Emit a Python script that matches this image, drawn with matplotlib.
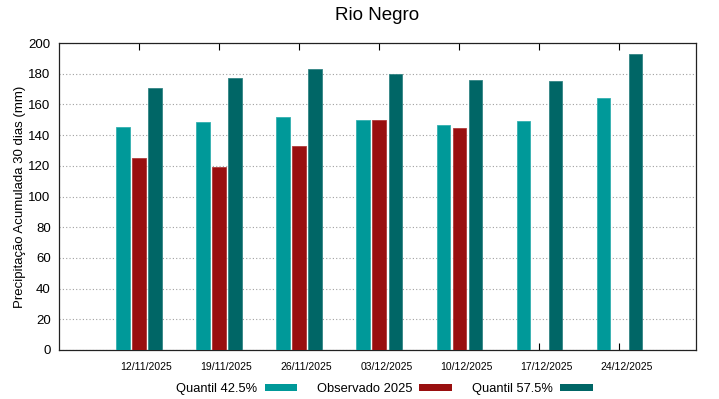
import numpy as np
import matplotlib
matplotlib.use("Agg")
import matplotlib.pyplot as plt
from matplotlib.patches import Patch

plt.rcParams['font.family'] = ['Liberation Sans', 'DejaVu Sans']

# data
datas = ['12/11/2025', '19/11/2025', '26/11/2025', '03/12/2025',
         '10/12/2025', '17/12/2025', '24/12/2025']
quantil_425 = [145.3, 148.3, 151.6, 149.6, 146.4, 149.2, 164.2]
observado = [125.0, 119.0, 132.9, 149.6, 144.8, np.nan, np.nan]
quantil_575 = [170.7, 177.0, 183.3, 179.8, 175.9, 175.0, 192.6]

c_q1 = '#009999'
c_obs = '#990f0f'
c_q2 = '#006666'

fig = plt.figure(figsize=(7.19, 3.99), dpi=100)
ax = fig.add_axes([59 / 719, 1 - 350 / 399, (696 - 59) / 719, (350 - 43) / 399])

x = np.arange(1, len(datas) + 1)
w = 0.165
step = 0.2
ax.bar(x - step, quantil_425, w, color=c_q1, edgecolor='#33b0b0', linewidth=0.6, zorder=3)
ax.bar(x, observado, w, color=c_obs, edgecolor='#b03a3a', linewidth=0.6, zorder=3)
ax.bar(x + step, quantil_575, w, color=c_q2, edgecolor='#338585', linewidth=0.6, zorder=3)

ax.set_xlim(0, 7.96)
ax.set_ylim(0, 200)
ax.set_yticks(np.arange(0, 201, 20))
# major ticks mark the groups, labels sit slightly to the right (minor ticks)
ax.set_xticks(x)
ax.set_xticklabels([])
ax.set_xticks(x + 0.09, minor=True)
ax.set_xticklabels(datas, minor=True, fontsize=7.5)
ax.tick_params(axis='x', which='major', direction='in', top=True, bottom=True, length=5, width=0.8)
ax.tick_params(axis='x', which='minor', length=0, pad=9)
ax.tick_params(axis='y', length=0, labelsize=9.5, pad=6)
ax.grid(axis='y', linestyle=(0, (1, 2)), color='#a0a0a0', linewidth=0.8, zorder=0)
for s in ax.spines.values():
    s.set_linewidth(0.9)
    s.set_color('#222222')

ax.set_ylabel('Precipitação Acumulada 30 dias (mm)', fontsize=9.5, labelpad=2)
fig.text(377.5 / 719, 1 - 16 / 399, 'Rio Negro', ha='center', va='center', fontsize=13.5)

handles = [Patch(facecolor=c_q1, label='Quantil 42.5%'),
           Patch(facecolor=c_obs, label='Observado 2025'),
           Patch(facecolor=c_q2, label='Quantil 57.5%')]
fig.legend(handles=handles, loc='center', bbox_to_anchor=(384.5 / 719, 1 - 389 / 399),
           ncol=3, frameon=False, markerfirst=False, fontsize=9.3,
           handlelength=2.55, handleheight=0.55, columnspacing=1.5, handletextpad=0.55)

plt.savefig('out.png', dpi=100)
